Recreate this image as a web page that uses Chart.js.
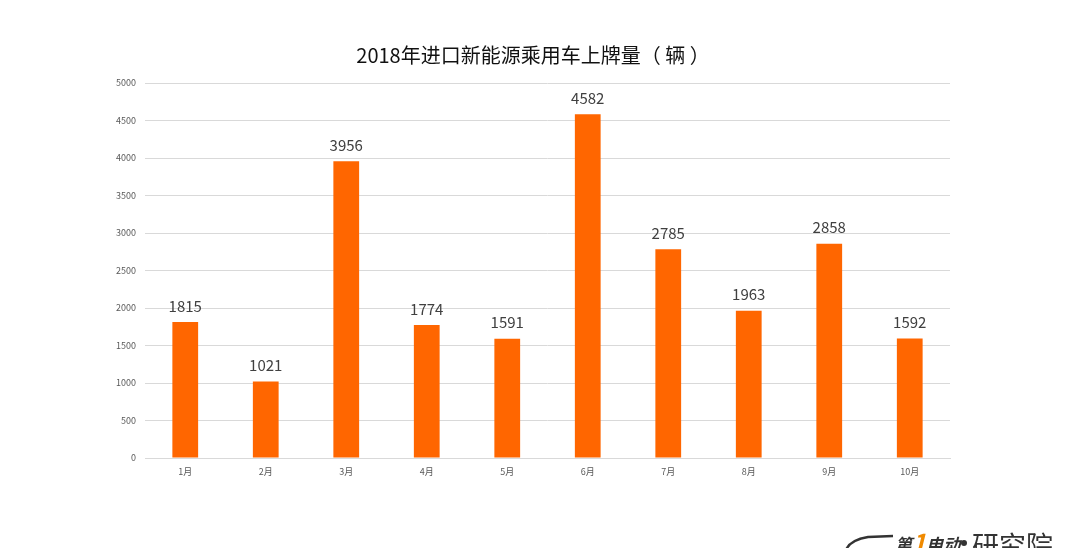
<!DOCTYPE html>
<html>
<head>
<meta charset="utf-8">
<script src="https://cdn.jsdelivr.net/npm/chart.js@4"></script>
<style>
  html, body { margin: 0; padding: 0; background: #fff; }
  #wrap { width: 1080px; height: 548px; }
</style>
</head>
<body>
<div id="wrap"><canvas id="bar"></canvas></div>
<script>
// data
let months = ["1月", "2月", "3月", "4月", "5月", "6月", "7月", "8月", "9月", "10月"]
let plates = [1815, 1021, 3956, 1774, 1591, 4582, 2785, 1963, 2858, 1592]
let yTicks = [0, 500, 1000, 1500, 2000, 2500, 3000, 3500, 4000, 4500, 5000]
let title = '2018年进口新能源乘用车上牌量（ 辆 ）'

const fam = '"Noto Sans CJK SC", "Noto Sans", sans-serif'

// title centred on the whole picture, not on the plot
const topTitle = {
    id: 'topTitle',
    afterDraw(chart) {
        const ctx = chart.ctx
        ctx.save()
        ctx.font = '20px ' + fam
        ctx.fillStyle = '#111'
        ctx.textAlign = 'center'
        ctx.textBaseline = 'middle'
        ctx.fillText(title, 533, 55)
        ctx.restore()
    }
}

// numbers above the bars
const valueLabels = {
    id: 'valueLabels',
    afterDatasetsDraw(chart) {
        const ctx = chart.ctx
        const meta = chart.getDatasetMeta(0)
        ctx.save()
        ctx.font = '15px ' + fam
        ctx.fillStyle = '#404040'
        ctx.textAlign = 'center'
        ctx.textBaseline = 'middle'
        meta.data.forEach((bar, i) => {
            ctx.fillText(plates[i], bar.x, bar.y - 16)
        })
        ctx.restore()
    }
}

// watermark in the bottom right corner (cut by the edge)
const watermark = {
    id: 'watermark',
    afterDraw(chart) {
        const ctx = chart.ctx
        ctx.save()
        ctx.textBaseline = 'alphabetic'
        ctx.textAlign = 'left'
        let x = 895
        ctx.font = 'italic bold 17px ' + fam
        ctx.fillStyle = '#333'
        ctx.fillText('第', x, 551)
        x += ctx.measureText('第').width
        ctx.font = 'italic bold 24px ' + fam
        ctx.fillStyle = '#f08a00'
        ctx.fillText('1', x, 551)
        x += ctx.measureText('1').width
        ctx.font = 'italic bold 17px ' + fam
        ctx.fillStyle = '#333'
        ctx.fillText('电动', x, 551)
        ctx.beginPath()
        ctx.arc(964, 543, 3, 0, Math.PI * 2)
        ctx.fill()
        ctx.font = '27px ' + fam
        ctx.fillText('研究院', 972, 556)
        // car outline
        ctx.strokeStyle = '#333'
        ctx.lineWidth = 2.5
        ctx.beginPath()
        ctx.moveTo(846, 550)
        ctx.quadraticCurveTo(850, 540, 868, 537)
        ctx.lineTo(893, 536)
        ctx.stroke()
        ctx.restore()
    }
}

const config = {
    type: 'bar',
    data: {
        labels: months,
        datasets: [{
            data: plates,
            backgroundColor: '#ff6600',
            categoryPercentage: 1,
            barPercentage: 0.32
        }]
    },
    options: {
        responsive: false,
        animation: false,
        layout: { padding: { left: 0, right: 130, top: 83, bottom: 0 } },
        plugins: {
            legend: { display: false },
            tooltip: { enabled: false },
            title: { display: false }
        },
        scales: {
            x: {
                grid: { display: false, drawTicks: false },
                border: { color: '#d9d9d9' },
                ticks: { color: '#595959', font: { family: fam, size: 9 }, padding: 8 },
                afterFit(s) { s.height = 90 }
            },
            y: {
                min: 0,
                max: 5000,
                afterBuildTicks(s) { s.ticks = yTicks.map(v => ({ value: v })) },
                grid: { color: '#d9d9d9', drawTicks: false },
                border: { display: false },
                ticks: {
                    color: '#595959',
                    font: { family: fam, size: 9 },
                    padding: 9,
                    callback: v => String(v)
                },
                afterFit(s) { s.width = 145 }
            }
        }
    },
    plugins: [valueLabels, topTitle, watermark]
}

const canvas = document.getElementById('bar')
canvas.width = 1080
canvas.height = 548
let bar = new Chart(canvas, config)
</script>
</body>
</html>
